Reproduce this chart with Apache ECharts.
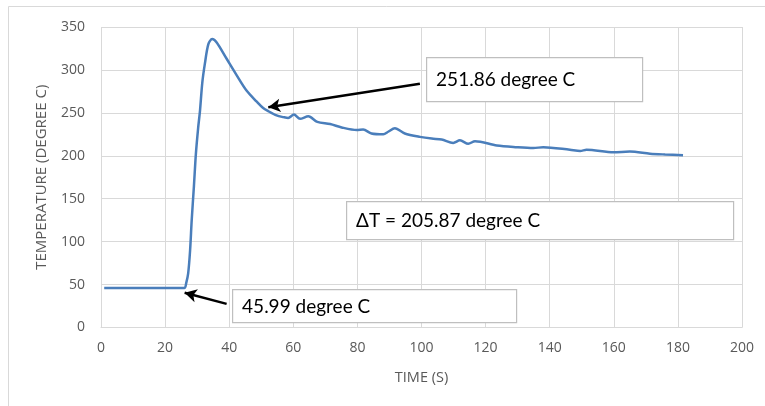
<!DOCTYPE html>
<html>
<head>
<meta charset="utf-8">
<script src="https://cdn.jsdelivr.net/npm/echarts@6/dist/echarts.min.js"></script>
<style>
  html, body { margin: 0; padding: 0; background: #fff; }
  #chart { width: 765px; height: 406px; }
</style>
</head>
<body>
<div id="chart"></div>
<script>
// time (s) and temperature (degree C)
var times = [1, 5, 10, 15, 20, 26, 26.6, 27.2, 27.8, 28.3, 29, 29.6, 30.3, 30.9, 31.6, 32.4, 33.5, 34.7, 36.1,
  39.2, 42.3, 45.4, 48.6, 50.5, 52.2, 54.8, 56.9, 58.4, 60.2, 62.1, 64.7, 67.5, 71.5, 75.1, 79.8, 81.8,
  84.4, 88.1, 89.6, 91.7, 94.8, 99.5, 103.2, 106.3, 109.9, 112, 114.6, 116.7, 123.5, 129.7, 134.9, 138,
  146.3, 149.5, 151.5, 159.9, 165, 171.3, 176, 181.6];
var temps = [46, 46, 46, 46, 46, 46, 52, 63, 90, 125, 165, 202, 232, 253, 285, 307, 330, 336, 332,
  313, 294, 276, 263, 256, 252, 247, 245, 244, 248, 243, 246, 239.5, 237, 233, 230, 230.5,
  226, 225, 228, 232, 226, 222, 220, 219, 215, 218, 214, 217, 212, 210, 209, 210,
  207, 205.6, 207, 204, 205, 202.5, 201.5, 200.6];
var xTicks = [0, 200, 20];   // min, max, step
var yTicks = [0, 350, 50];

var notes = [
  { text: '251.86 degree C', x: 426, y: 57, w: 216, h: 44 },
  { text: '\u0394T = 205.87 degree C', x: 346, y: 201, w: 387, h: 38 },
  { text: '45.99 degree C', x: 232, y: 289, w: 284, h: 33 }
];
// arrows in data coordinates: [from, to]
var arrows = [
  [[99.5, 284], [52.2, 256.5]],
  [[39.2, 27.5], [26.1, 40.5]]
];

var points = times.map(function (t, i) { return [t, temps[i]]; });
var font = '"Open Sans", "Liberation Sans", sans-serif';
var noteFont = 'Lato, "Noto Sans", sans-serif';

var myChart = echarts.init(document.getElementById('chart'));

var option = {
  animation: false,
  backgroundColor: '#fff',
  grid: { left: 101, right: 23, top: 27, bottom: 78.5 },
  xAxis: {
    type: 'value',
    min: xTicks[0], max: xTicks[1], interval: xTicks[2],
    name: 'TIME (S)', nameLocation: 'middle', nameGap: 43,
    nameTextStyle: { color: '#595959', fontSize: 14.5, fontFamily: font },
    axisLine: { show: true, lineStyle: { color: '#d9d9d9' } },
    axisTick: { show: false },
    axisLabel: { color: '#595959', fontSize: 14, fontFamily: font, margin: 14 },
    splitLine: { show: true, lineStyle: { color: '#d9d9d9' } }
  },
  yAxis: {
    type: 'value',
    min: yTicks[0], max: yTicks[1], interval: yTicks[2],
    name: 'TEMPERATURE (DEGREE C)', nameLocation: 'middle', nameGap: 52,
    nameTextStyle: { color: '#595959', fontSize: 15, fontFamily: font },
    axisLine: { show: false },
    axisTick: { show: false },
    axisLabel: { color: '#595959', fontSize: 14, fontFamily: font, margin: 16 },
    splitLine: { show: true, lineStyle: { color: '#d9d9d9' } }
  },
  series: [{
    type: 'line',
    data: points,
    smooth: 0.3,
    showSymbol: false,
    lineStyle: { color: '#4a7ebb', width: 2.5 },
    markLine: {
      silent: true,
      symbol: ['none', 'arrow'],
      symbolSize: [10, 12],
      label: { show: false },
      lineStyle: { color: '#000', width: 2.5, type: 'solid' },
      data: arrows.map(function (a) {
        return [{ coord: a[0] }, { coord: a[1] }];
      })
    }
  }],
  graphic: [
    { type: 'line', shape: { x1: 8.5, y1: 6.5, x2: 8.5, y2: 406 }, style: { stroke: '#d9d9d9', lineWidth: 1 } },
    { type: 'line', shape: { x1: 8.5, y1: 6.5, x2: 765, y2: 6.5 }, style: { stroke: '#d9d9d9', lineWidth: 1 } }
  ].concat(notes.map(function (n) {
    return {
      type: 'group', left: n.x, top: n.y, z: 100,
      children: [
        { type: 'rect', z: 100, shape: { x: 0.5, y: 0.5, width: n.w, height: n.h },
          style: { fill: '#fff', stroke: '#bfbfbf', lineWidth: 1.2 } },
        { type: 'text', z: 101, x: 10, y: n.h / 2 + 1,
          style: { text: n.text, fill: '#000', font: '19px ' + noteFont, verticalAlign: 'middle' } }
      ]
    };
  }))
};

myChart.setOption(option);
</script>
</body>
</html>
